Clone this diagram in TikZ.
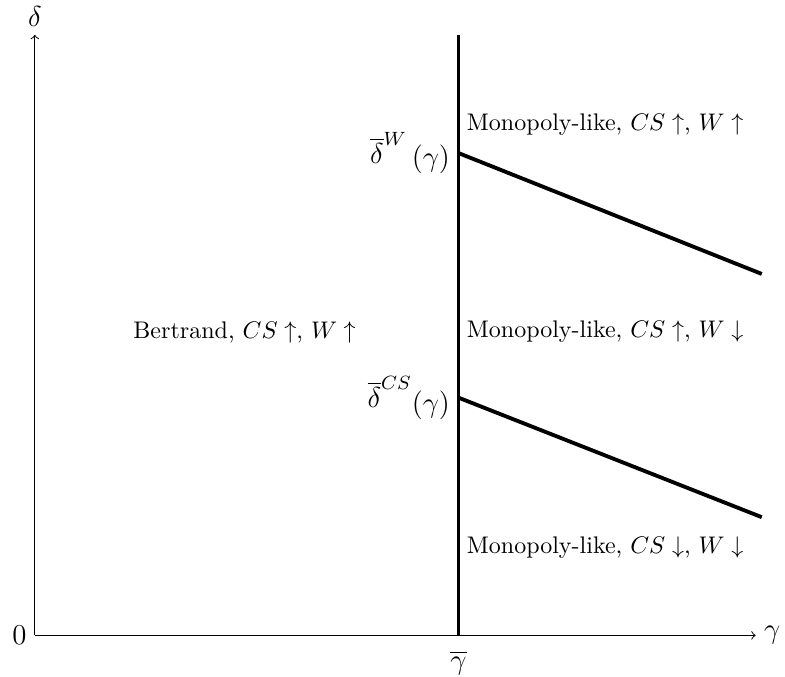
\documentclass[tikz,border=0pt]{standalone}
\usepackage{amsmath,amssymb}
\usepackage{tikz}
\usetikzlibrary{calc}

\begin{document}
\begin{tikzpicture}
    \def\a{10.55}
    \def\b{8.79}
    \def\g{6.2}
    \useasboundingbox (-0.51,-0.60) rectangle (10.98,9.30);
    \coordinate (O) at (0, 0);
    \coordinate (xe) at (\a, 0);
    \coordinate (ye) at (0, \b);
    \coordinate (gtop) at (\g, \b);
    \coordinate (gbot) at (\g, 0);
    \coordinate (w1) at (\g, 7.06);
    \coordinate (w2) at (10.64, 5.29);
    \coordinate (c1) at (\g, 3.48);
    \coordinate (c2) at (10.64, 1.73);
    \draw[->] (O) -- (xe) node[right] (lgamma) {\large$\gamma$};
    \draw[->] (O) -- (ye) node[above] (ldelta) {\large$\delta$};
    \node[left] (lzero) at (O) {\large$0$};
    \node[below=3pt] (lgbar) at (gbot) {\large$\overline{\gamma}$};
    \draw[ultra thick] (gbot) -- (gtop);
    \draw[ultra thick] (w1) -- (w2);
    \draw[ultra thick] (c1) -- (c2);
    \node[left] (ldw) at (w1) {\large$\raisebox{1.5pt}{$\overline{\delta}^{W}$}\,(\gamma)$};
    \node[left] (ldcs) at (c1) {\large$\raisebox{2pt}{$\overline{\delta}^{CS}$}(\gamma)$};
    \node (bert) at (3.07, 4.44) {Bertrand, $CS\uparrow$, $W\uparrow$};
    \node[right] (mono1) at (\g, 7.48) {Monopoly-like, $CS\uparrow$, $W\uparrow$};
    \node[right] (mono2) at (\g, 4.44) {Monopoly-like, $CS\uparrow$, $W\downarrow$};
    \node[right] (mono3) at (\g, 1.29) {Monopoly-like, $CS\downarrow$, $W\downarrow$};
  \end{tikzpicture}
\end{document}
